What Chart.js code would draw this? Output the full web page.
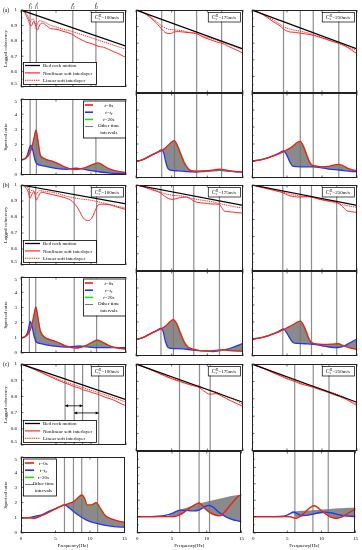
<!DOCTYPE html>
<html>
<head>
<meta charset="utf-8">
<script src="https://cdn.jsdelivr.net/npm/chart.js@4.4.0/dist/chart.umd.min.js"></script>
<style>
  html, body { margin: 0; padding: 0; background: #fff; }
  #fig { position: relative; width: 362px; height: 550px; overflow: hidden; background: #fff; }
</style>
</head>
<body>
<div id="fig"></div>
<script>
// ---------------- data ----------------
const freqTicks = [0, 5, 10, 15];
const velocities = ['100', '175', '250'];
const rowNames = ['(a)', '(b)', '(c)'];
const fLabelsA1 = [['1', 's'], ['1', 'l'], ['2', 's'], ['2', 'l']];

// bed rock coherency (straight line)
const bedA = [[0, 1], [15, 0.765]];
const bedB = [[0, 1], [15, 0.882]];
const bedC = [[0, 1], [15, 0.78]];

// nonlinear / linear soft interlayer coherency
const nlA1 = [[0,1],[0.5,0.985],[1,0.94],[1.45,0.895],[1.8,0.925],[2.0,0.91],[2.3,0.868],[2.7,0.905],[3.1,0.915],[3.6,0.9],[4.2,0.88],[5,0.875],[6,0.862],[7.2,0.845],[8,0.822],[8.7,0.805],[9.4,0.79],[10.2,0.78],[11,0.765],[11.8,0.758],[12.5,0.745],[13.2,0.73],[14,0.715],[14.6,0.7],[15,0.695]];
const linA1 = [[0,1],[0.5,0.99],[1,0.96],[1.35,0.925],[1.7,0.945],[2.2,0.9],[2.6,0.93],[3.2,0.925],[4,0.905],[5,0.89],[6,0.875],[7,0.865],[8,0.85],[9,0.835],[10,0.82],[11,0.805],[12,0.79],[13,0.775],[14,0.76],[15,0.745]];
const nlA2 = [[0,1],[1,0.985],[2,0.955],[3,0.915],[3.6,0.885],[4.2,0.862],[4.8,0.858],[5.4,0.868],[6,0.87],[7,0.865],[8,0.862],[8.5,0.858],[9.5,0.835],[10.5,0.82],[11.5,0.805],[12,0.8],[12.8,0.785],[13.5,0.77],[14.3,0.755],[15,0.74]];
const linA2 = [[0,1],[1,0.985],[2,0.96],[3,0.925],[3.6,0.905],[4.5,0.885],[5.4,0.88],[6.5,0.875],[7.5,0.865],[8.5,0.857],[9.5,0.84],[10.5,0.83],[11.5,0.815],[12.5,0.8],[13.5,0.785],[14.3,0.772],[15,0.76]];
const nlA3 = [[0,1],[1,0.985],[2,0.96],[3,0.93],[4,0.905],[4.5,0.885],[5.4,0.868],[6.2,0.865],[6.9,0.86],[7.8,0.855],[8.75,0.848],[9.5,0.838],[10.5,0.825],[11.5,0.81],[12.4,0.8],[13.2,0.785],[14,0.765],[15,0.737]];
const linA3 = [[0,1],[1,0.985],[2,0.965],[3,0.94],[4,0.915],[4.5,0.9],[5.4,0.885],[6.9,0.872],[8,0.862],[9,0.848],[10,0.835],[11,0.82],[12,0.805],[13,0.79],[14,0.772],[15,0.755]];

const nlB1 = [[0,1],[0.5,0.99],[1,0.96],[1.3,0.918],[1.6,0.945],[1.85,0.96],[2.2,0.906],[2.5,0.93],[2.9,0.955],[3.5,0.95],[4.5,0.94],[5.5,0.93],[6.5,0.917],[7.1,0.905],[7.6,0.885],[8.2,0.85],[8.8,0.8],[9.3,0.78],[9.7,0.778],[10.2,0.8],[10.6,0.84],[11,0.875],[11.6,0.88],[12.6,0.877],[13.5,0.865],[14.3,0.855],[15,0.847]];
const linB1 = [[0,1],[1,0.98],[1.3,0.95],[1.6,0.97],[2.2,0.945],[2.6,0.965],[3.5,0.96],[5,0.95],[6.5,0.93],[7.6,0.92],[9,0.91],[10,0.905],[11,0.895],[12,0.885],[13,0.875],[14,0.865],[15,0.855]];
const nlB2 = [[0,1],[1,0.99],[2,0.975],[2.8,0.965],[3.4,0.955],[4,0.935],[4.6,0.92],[5.2,0.917],[6,0.925],[7.1,0.93],[7.8,0.915],[8.5,0.9],[9.5,0.895],[10.5,0.89],[11.7,0.887],[12,0.87],[12.4,0.848],[13,0.845],[14,0.84],[15,0.837]];
const linB2 = [[0,1],[1,0.99],[2,0.98],[3,0.965],[4,0.95],[5.2,0.94],[6.5,0.935],[8,0.92],[9.5,0.91],[11,0.9],[12,0.89],[13,0.88],[14,0.872],[15,0.865]];
const nlB3 = [[0,1],[1,0.99],[2,0.98],[3,0.97],[4,0.96],[4.4,0.955],[5.2,0.94],[6,0.932],[6.9,0.93],[7.7,0.932],[8.5,0.93],[9.5,0.918],[10.5,0.91],[11.5,0.905],[12.1,0.9],[12.8,0.88],[13.5,0.852],[14.2,0.845],[15,0.84]];
const linB3 = [[0,1],[1,0.99],[2,0.985],[3,0.975],[4,0.965],[5,0.952],[6,0.942],[7,0.935],[8.5,0.93],[10,0.915],[11,0.905],[12,0.895],[13,0.885],[14,0.877],[15,0.87]];

const nlC1 = [[0,1],[1,0.983],[2,0.965],[3,0.945],[4,0.925],[5,0.905],[5.7,0.893],[6.3,0.882],[7,0.872],[7.6,0.86],[8.3,0.852],[8.9,0.84],[9.6,0.832],[10.4,0.82],[11.2,0.81],[12,0.795],[12.8,0.785],[13.6,0.77],[14.3,0.755],[15,0.742]];
const linC1 = [[0,1],[1,0.985],[2,0.967],[3,0.948],[4,0.93],[5,0.912],[6,0.895],[7,0.88],[8,0.866],[9,0.852],[10,0.838],[11,0.825],[12,0.81],[13,0.795],[14,0.78],[15,0.765]];
const nlC2 = [[0,1],[1,0.985],[2,0.968],[3,0.95],[4,0.932],[5,0.915],[6.1,0.9],[7,0.888],[8,0.875],[8.9,0.864],[9.5,0.845],[10.4,0.826],[11.2,0.83],[11.8,0.82],[12.5,0.805],[13.2,0.79],[14,0.775],[15,0.756]];
const linC2 = [[0,1],[1,0.985],[2,0.97],[3,0.952],[4,0.935],[5,0.918],[6.1,0.903],[7,0.89],[8,0.88],[8.9,0.872],[9.6,0.86],[10.4,0.848],[11.5,0.835],[12.5,0.815],[13.5,0.8],[14.3,0.785],[15,0.767]];
const nlC3 = [[0,1],[1,0.985],[2,0.968],[3,0.95],[4,0.933],[5,0.915],[6.1,0.9],[7,0.885],[8,0.875],[8.75,0.866],[9.5,0.855],[10.3,0.845],[11,0.835],[12,0.82],[13,0.805],[14,0.785],[15,0.76]];
const linC3 = [[0,1],[1,0.986],[2,0.97],[3,0.953],[4,0.936],[5,0.92],[6.1,0.905],[7,0.89],[8,0.88],[8.75,0.872],[10,0.855],[11,0.842],[12,0.828],[13,0.812],[14,0.793],[15,0.77]];

// spectral ratio: t=0s (red), t=te (blue), t=20s (green)
const t0A1 = [[0,1],[0.5,1.05],[1,1.25],[1.3,1.5],[1.6,1.9],[1.9,2.5],[2.13,2.95],[2.4,2.3],[2.75,1.3],[3.2,1.1],[3.7,1.0],[4.6,0.88],[5.5,0.7],[6.5,0.48],[7.3,0.38],[7.9,0.36],[8.6,0.42],[9.3,0.5],[10,0.65],[10.6,0.75],[11,0.8],[11.5,0.7],[12.2,0.5],[12.7,0.38],[13.5,0.27],[14.3,0.2],[15,0.17]];
const t20A1 = [[0,1],[0.5,1.05],[1,1.25],[1.3,1.5],[1.6,1.9],[1.9,2.5],[2.13,2.9],[2.4,2.4],[2.75,1.4],[3.2,1.15],[3.7,1.02],[4.6,0.88],[5.5,0.7],[6.5,0.48],[7.3,0.38],[7.9,0.36],[8.6,0.4],[9.3,0.47],[10,0.58],[10.6,0.68],[11,0.72],[11.5,0.63],[12.2,0.47],[12.7,0.37],[13.5,0.27],[14.3,0.2],[15,0.17]];
const teA1 = [[0,1],[0.5,1.05],[0.9,1.3],[1.15,1.7],[1.42,1.97],[1.7,1.6],[2.0,0.98],[2.3,0.72],[3,0.62],[4.2,0.5],[5.5,0.4],[6.5,0.37],[7.3,0.42],[7.9,0.45],[8.7,0.4],[9.8,0.3],[11,0.22],[12.7,0.13],[14,0.1],[15,0.08]];
const t0A2 = [[0,1],[0.5,1.02],[1,1.08],[1.5,1.18],[2,1.3],[2.5,1.4],[3,1.5],[3.6,1.62],[4.2,1.8],[4.8,2.05],[5.37,2.2],[5.8,1.9],[6.3,1.35],[6.8,0.85],[7.3,0.55],[7.6,0.45],[8.5,0.4],[9.5,0.42],[10.5,0.45],[11.3,0.5],[11.8,0.52],[12.5,0.47],[13.5,0.4],[14.3,0.37],[15,0.35]];
const t20A2 = [[0,1],[0.5,1.02],[1,1.08],[1.5,1.18],[2,1.3],[2.5,1.4],[3,1.5],[3.6,1.62],[4.2,1.78],[4.8,2.0],[5.37,2.15],[5.8,1.95],[6.3,1.45],[6.8,0.95],[7.3,0.6],[7.6,0.47],[8.5,0.4],[9.5,0.41],[10.5,0.43],[11.3,0.46],[11.8,0.47],[12.5,0.44],[13.5,0.39],[14.3,0.36],[15,0.35]];
const teA2 = [[0,1],[0.5,1.02],[1,1.1],[1.5,1.2],[2,1.32],[2.5,1.42],[3,1.52],[3.6,1.65],[3.9,1.45],[4.2,0.9],[4.5,0.55],[5,0.45],[6,0.42],[7,0.38],[8.4,0.35],[9.5,0.38],[10.5,0.42],[11.8,0.45],[13,0.4],[14,0.36],[15,0.35]];
const t0A3 = [[0,1],[1,1.05],[2,1.15],[3,1.3],[4,1.45],[4.5,1.55],[5.2,1.7],[5.9,1.9],[6.5,2.1],[6.9,2.15],[7.3,1.9],[7.8,1.35],[8.2,0.95],[8.5,0.78],[9.2,0.7],[10,0.66],[10.8,0.68],[11.6,0.75],[12.4,0.8],[13,0.72],[13.8,0.55],[14.5,0.47],[15,0.43]];
const t20A3 = [[0,1],[1,1.05],[2,1.15],[3,1.3],[4,1.45],[4.5,1.55],[5.2,1.7],[5.9,1.88],[6.5,2.05],[6.9,2.1],[7.3,1.95],[7.8,1.45],[8.2,1.0],[8.5,0.8],[9.2,0.7],[10,0.65],[10.8,0.66],[11.6,0.7],[12.4,0.72],[13,0.66],[13.8,0.52],[14.5,0.46],[15,0.43]];
const teA3 = [[0,1],[1,1.05],[2,1.15],[3,1.3],[3.8,1.45],[4.5,1.6],[4.9,1.4],[5.4,0.95],[5.9,0.68],[7,0.66],[8.75,0.66],[10,0.6],[11,0.52],[12.5,0.47],[13.5,0.42],[14.3,0.38],[15,0.37]];

const t0B1 = [[0,1],[0.5,1.05],[1,1.25],[1.3,1.5],[1.6,1.95],[1.9,2.6],[2.13,3.04],[2.4,2.35],[2.75,1.45],[3.2,1.1],[3.7,0.95],[4.6,0.82],[5.5,0.65],[6.5,0.45],[7.3,0.35],[8,0.33],[8.7,0.4],[9.4,0.52],[10.2,0.72],[10.9,0.85],[11.5,0.75],[12.3,0.55],[13,0.42],[14,0.32],[15,0.26]];
const t20B1 = [[0,1],[0.5,1.05],[1,1.25],[1.3,1.5],[1.6,1.95],[1.9,2.6],[2.13,3.0],[2.4,2.45],[2.75,1.55],[3.2,1.15],[3.7,0.97],[4.6,0.82],[5.5,0.65],[6.5,0.45],[7.3,0.35],[8,0.33],[8.7,0.38],[9.4,0.47],[10.2,0.6],[10.9,0.68],[11.5,0.62],[12.3,0.48],[13,0.38],[14,0.3],[15,0.26]];
const teB1 = [[0,1],[0.5,1.05],[0.9,1.3],[1.15,1.75],[1.32,2.08],[1.6,1.7],[1.9,1.05],[2.2,0.72],[3,0.6],[4,0.5],[5.5,0.42],[6.5,0.38],[7.3,0.42],[8.4,0.46],[9.5,0.4],[11,0.35],[13,0.35],[15,0.36]];
const t0B2 = [[0,1],[0.5,1.02],[1,1.08],[1.5,1.18],[2,1.3],[2.5,1.4],[3,1.5],[3.5,1.6],[4.2,1.78],[4.7,2.0],[5.2,2.14],[5.7,1.9],[6.2,1.35],[6.7,0.85],[7.2,0.55],[7.6,0.45],[8.5,0.35],[9.5,0.3],[10.5,0.3],[11.5,0.35],[12.3,0.37],[13,0.33],[14,0.3],[15,0.28]];
const t20B2 = [[0,1],[0.5,1.02],[1,1.08],[1.5,1.18],[2,1.3],[2.5,1.4],[3,1.5],[3.5,1.6],[4.2,1.76],[4.7,1.95],[5.2,2.1],[5.7,1.95],[6.2,1.45],[6.7,0.95],[7.2,0.6],[7.6,0.47],[8.5,0.36],[9.5,0.3],[10.5,0.3],[11.5,0.33],[12.3,0.34],[13,0.31],[14,0.29],[15,0.28]];
const teB2 = [[0,1],[0.5,1.02],[1,1.1],[1.5,1.2],[2,1.32],[2.5,1.42],[3,1.52],[3.5,1.63],[3.8,1.45],[4.1,0.9],[4.5,0.5],[5,0.45],[6.5,0.42],[8,0.35],[9.5,0.3],[10.8,0.26],[11.5,0.3],[12.5,0.38],[13.5,0.5],[14.3,0.62],[15,0.75]];
const t0B3 = [[0,1],[1,1.05],[2,1.15],[3,1.3],[4,1.45],[4.5,1.55],[5.2,1.7],[5.9,1.85],[6.5,2.0],[6.9,2.05],[7.3,1.85],[7.8,1.35],[8.2,0.95],[8.6,0.76],[9.5,0.7],[10.5,0.68],[11.5,0.7],[12.3,0.72],[13,0.62],[14,0.48],[15,0.4]];
const t20B3 = [[0,1],[1,1.05],[2,1.15],[3,1.3],[4,1.45],[4.5,1.55],[5.2,1.7],[5.9,1.83],[6.5,1.97],[6.9,2.0],[7.3,1.88],[7.8,1.45],[8.2,1.0],[8.6,0.8],[9.5,0.7],[10.5,0.67],[11.5,0.67],[12.3,0.68],[13,0.6],[14,0.47],[15,0.4]];
const teB3 = [[0,1],[1,1.05],[2,1.15],[3,1.3],[3.8,1.45],[4.5,1.6],[4.9,1.4],[5.4,1.05],[5.9,0.78],[6.5,0.74],[7.5,0.72],[8.8,0.69],[10,0.6],[11,0.53],[12.3,0.5],[13.2,0.6],[14,0.78],[15,1.0]];

const t0C1 = [[0,1],[1,1.0],[1.5,0.98],[2,0.97],[2.5,1.05],[3,1.15],[4,1.35],[4.6,1.5],[5.5,1.7],[6.3,1.85],[7,1.95],[7.6,2.05],[8.2,2.3],[8.8,2.5],[9.2,2.3],[9.6,1.85],[10.2,1.85],[10.9,2.0],[11.4,1.7],[12.2,1.15],[13,0.95],[14,0.8],[15,0.7]];
const t20C1 = [[0,1],[1,1.0],[1.5,0.98],[2,0.97],[2.5,1.05],[3,1.15],[4,1.35],[4.6,1.5],[5.5,1.7],[6.3,1.84],[7,1.93],[7.6,2.02],[8.2,2.2],[8.8,2.35],[9.2,2.15],[9.6,1.8],[10.2,1.75],[10.9,1.8],[11.4,1.55],[12.2,1.1],[13,0.92],[14,0.78],[15,0.7]];
const teC1 = [[0,1],[1,1.0],[1.5,1.05],[2,1.1],[3,1.2],[4.2,1.45],[5.5,1.7],[6.3,1.85],[7,1.65],[7.6,1.42],[8.5,1.12],[9.5,0.85],[10.5,0.68],[11.4,0.58],[12.5,0.48],[13.5,0.42],[15,0.38]];
const t0C2 = [[0,1],[2,1.0],[4,1.0],[5,1.0],[5.7,1.05],[6.5,1.2],[7.3,1.45],[8.2,1.7],[8.9,1.83],[9.5,1.6],[10.3,1.3],[11.2,1.1],[11.9,1.05],[12.5,1.25],[13.2,1.6],[14,2.0],[14.6,2.25],[15,2.35]];
const t20C2 = [[0,1],[2,1.0],[4,1.0],[5,1.0],[5.7,1.05],[6.5,1.2],[7.3,1.43],[8.2,1.68],[8.9,1.8],[9.6,1.5],[10.5,1.2],[11.5,1.05],[12.2,1.15],[13,1.5],[14,1.95],[15,2.32]];
const teC2 = [[0,1],[2,1.0],[3,1.02],[4,1.08],[5,1.2],[6.2,1.4],[7,1.38],[8,1.35],[8.9,1.4],[9.7,1.6],[10.4,1.69],[11,1.55],[11.8,1.25],[12.7,1.0],[13.5,0.85],[14.3,0.75],[15,0.7]];
const t0C3 = [[0,1],[3,1.0],[5,1.0],[5.5,0.98],[6.3,0.9],[7,1.05],[7.8,1.35],[8.5,1.6],[9,1.67],[9.6,1.5],[10.5,1.2],[11.3,0.98],[12.1,0.9],[12.8,0.95],[13.5,1.1],[14.3,1.3],[15,1.48]];
const t20C3 = [[0,1],[3,1.0],[5,1.0],[5.5,0.98],[6.3,0.92],[7,1.05],[7.8,1.33],[8.5,1.56],[9,1.62],[9.6,1.48],[10.5,1.2],[11.3,1.0],[12.1,0.92],[12.8,0.97],[13.5,1.1],[14.3,1.28],[15,1.46]];
const teC3 = [[0,1],[3,1.0],[4.5,1.02],[5.3,1.15],[5.9,1.28],[6.5,1.18],[7,1.05],[7.8,1.08],[8.8,1.15],[9.8,1.25],[10.6,1.27],[11.5,1.22],[12.5,1.12],[13.5,1.05],[14.3,1.02],[15,1.0]];

// envelope of the "other time intervals" curves where they leave the red/blue pair
const bandHiC2 = [[4.5,1.1],[6.2,1.42],[7.5,1.6],[8.9,1.8],[10.4,1.95],[12,2.1],[13.5,2.25],[15,2.35]];
const bandLoC2 = [[4.5,1.0],[6.2,1.1],[7.3,1.35],[8,1.35],[8.9,1.4],[9.6,1.5],[10.3,1.3],[11.2,1.1],[12,1.05],[12.7,1.0],[13.5,0.85],[14.3,0.75],[15,0.7]];
const bandHiC3 = [[4.5,1.05],[5.9,1.3],[7.5,1.35],[9,1.4],[10.6,1.45],[12,1.5],[13.5,1.52],[15,1.55]];
const bandLoC3 = [[4.5,1.0],[5.9,1.2],[6.3,0.95],[7,1.02],[8,1.08],[9,1.15],[10.5,1.2],[11.3,0.98],[12.1,0.9],[12.8,0.95],[13.5,1.02],[14.3,1.0],[15,1.0]];

// natural frequency markers (Hz)
const vlA1 = [1.3, 2.2, 7.4, 10.7], vlA2 = [3.6, 5.4, 8.5, 12.0], vlA3 = [4.5, 6.9, 8.75, 12.4];
const vlB1 = [1.2, 2.1, 7.6, 10.8], vlB2 = [3.5, 5.25, 8.1, 11.7], vlB3 = [4.4, 6.9, 8.5, 12.1];
const vlC1 = [6.3, 7.6, 8.8, 11.1], vlC2 = [6.1, 8.9, 10.4], vlC3 = [6.1, 8.75, 11.0];

// double arrows in panel (c) [from Hz, to Hz, coherency]
const arrowsC1 = [[6.3, 8.8, 0.742], [7.6, 11.1, 0.698]];

// tables built from the arrays above
const bedRock = [bedA, bedB, bedC];
const cohNL = [[nlA1, nlA2, nlA3], [nlB1, nlB2, nlB3], [nlC1, nlC2, nlC3]];
const cohLin = [[linA1, linA2, linA3], [linB1, linB2, linB3], [linC1, linC2, linC3]];
const specT0 = [[t0A1, t0A2, t0A3], [t0B1, t0B2, t0B3], [t0C1, t0C2, t0C3]];
const specT20 = [[t20A1, t20A2, t20A3], [t20B1, t20B2, t20B3], [t20C1, t20C2, t20C3]];
const specTe = [[teA1, teA2, teA3], [teB1, teB2, teB3], [teC1, teC2, teC3]];
const bandHi = [[null, null, null], [null, null, null], [null, bandHiC2, bandHiC3]];
const bandLo = [[null, null, null], [null, null, null], [null, bandLoC2, bandLoC3]];
const vLines = [[vlA1, vlA2, vlA3], [vlB1, vlB2, vlB3], [vlC1, vlC2, vlC3]];

// ---------------- layout ----------------
const colX = [[21, 126], [136, 243], [252, 357]];
const rowY = [
  { coh: [10, 93], spec: [93, 178] },
  { coh: [185, 271], spec: [271, 356] },
  { coh: [364, 451], spec: [451, 533] }
];

const RED = '#ff1414', BLUE = '#2233ff', GREEN = '#22dd22', BAND = 'rgba(118,118,118,0.85)', VGRAY = '#8d8d8d';
const SERIF = "'Liberation Serif', 'DejaVu Serif', serif";

Chart.defaults.font.family = SERIF;
Chart.defaults.font.size = 5;
Chart.defaults.color = '#000';

const fig = document.getElementById('fig');

function fnt(size, italic) { return (italic ? 'italic ' : '') + size + 'px ' + SERIF; }

// parts: [text, size, italic, dy, noAdvance]
function rich(ctx, parts, x, y, align) {
  let w = 0;
  parts.forEach(p => { ctx.font = fnt(p[1], p[2]); if (!p[4]) w += ctx.measureText(p[0]).width; });
  let cx = align === 'center' ? x - w / 2 : x;
  ctx.textAlign = 'left';
  parts.forEach(p => {
    ctx.font = fnt(p[1], p[2]);
    ctx.fillText(p[0], cx, y + (p[3] || 0));
    if (!p[4]) cx += ctx.measureText(p[0]).width;
  });
  return w;
}

function line(ctx, x1, y1, x2, y2) { ctx.beginPath(); ctx.moveTo(x1, y1); ctx.lineTo(x2, y2); ctx.stroke(); }

const decor = {
  id: 'decor',
  beforeDraw(chart, args, o) {
    const { ctx, chartArea: a, scales: { x } } = chart;
    ctx.save();
    ctx.strokeStyle = VGRAY;
    ctx.lineWidth = 1.2;
    (o.vlines || []).forEach(f => {
      const px = x.getPixelForValue(f);
      line(ctx, px, a.top, px, a.bottom);
    });
    ctx.restore();
  },
  afterDatasetsDraw(chart, args, o) {
    if (!o.arrows) return;
    const { ctx, scales: { x, y } } = chart;
    ctx.save();
    ctx.strokeStyle = '#000'; ctx.fillStyle = '#000'; ctx.lineWidth = 0.8;
    o.arrows.forEach(ar => {
      const p1 = x.getPixelForValue(ar[0]), p2 = x.getPixelForValue(ar[1]), py = y.getPixelForValue(ar[2]);
      line(ctx, p1, py, p2, py);
      [[p1, 1], [p2, -1]].forEach(([px, d]) => {
        ctx.beginPath(); ctx.moveTo(px, py); ctx.lineTo(px + d * 3, py - 1.5); ctx.lineTo(px + d * 3, py + 1.5); ctx.closePath(); ctx.fill();
      });
    });
    ctx.restore();
  },
  afterDraw(chart, args, o) {
    const { ctx, chartArea: a, scales: { x, y } } = chart;
    ctx.save();
    // frame
    ctx.strokeStyle = '#222'; ctx.lineWidth = 1;
    ctx.strokeRect(Math.round(a.left) + 0.5, Math.round(a.top) + 0.5, Math.round(a.width) - 1, Math.round(a.height) - 1);
    // inward ticks
    ctx.lineWidth = 0.7;
    const n = Math.round((y.max - y.min) / o.minor);
    for (let i = 0; i <= n; i++) {
      const v = y.min + i * o.minor;
      const py = y.getPixelForValue(v);
      const len = (i % o.perMajor === 0) ? 2.5 : 1.5;
      line(ctx, a.left, py, a.left + len, py);
    }
    freqTicks.forEach(f => {
      const px = x.getPixelForValue(f);
      line(ctx, px, a.bottom, px, a.bottom - 2.5);
      line(ctx, px, a.top, px, a.top + 2.5);
    });
    ctx.fillStyle = '#000';
    ctx.textBaseline = 'alphabetic';
    // row letter
    if (o.rowLabel) { ctx.font = fnt(5.5); ctx.textAlign = 'center'; ctx.fillText(o.rowLabel, a.left - 15, a.top + 2); }
    // frequency labels above the frame
    if (o.fLabels) {
      o.fLabels.forEach((fl, i) => {
        const px = x.getPixelForValue(o.vlines[i]);
        rich(ctx, [['f', 5.5, true, 0], [fl[0], 3.6, false, 1.3, true], [fl[1], 3.6, true, -2.3]], px, a.top - 2.5, 'center');
      });
    }
    // velocity box
    if (o.cLabel) {
      const parts = [['C', 5.5, true, 0], ['s', 3.6, true, 1.4, true], ['IL', 3.4, true, -2.2], ['=' + o.cLabel + 'm/s', 5, false, 0]];
      ctx.font = fnt(5);
      let w = 0;
      parts.forEach(p => { ctx.font = fnt(p[1], p[2]); if (!p[4]) w += ctx.measureText(p[0]).width; });
      const bw = w + 8, bh = 9.5, bx = a.right - 3 - bw, by = a.top + 2;
      ctx.fillStyle = '#fff'; ctx.fillRect(bx, by, bw, bh);
      ctx.strokeStyle = '#000'; ctx.lineWidth = 0.7; ctx.strokeRect(bx + 0.5, by + 0.5, bw, bh);
      ctx.fillStyle = '#000';
      rich(ctx, parts, bx + bw / 2, by + 6.8, 'center');
    }
    // legends
    if (o.legend === 'coh') {
      const bx = a.left + 2, by = a.bottom - 25, bw = 73, bh = 22;
      ctx.fillStyle = '#fff'; ctx.fillRect(bx, by, bw, bh);
      ctx.strokeStyle = '#000'; ctx.lineWidth = 0.8; ctx.strokeRect(bx + 0.5, by + 0.5, bw, bh);
      const items = [['Bed rock motion', '#000', [], 1.3], ['Nonlinear soft interlayer', RED, [], 1.1], ['Linear soft interlayer', RED, [1.3, 0.9], 1.1]];
      items.forEach((it, i) => {
        const iy = by + 3.5 + i * 7.4;
        ctx.strokeStyle = it[1]; ctx.lineWidth = it[3]; ctx.setLineDash(it[2]);
        line(ctx, bx + 2, iy, bx + 17, iy);
        ctx.setLineDash([]);
        ctx.fillStyle = '#000'; ctx.font = fnt(5); ctx.textAlign = 'left';
        ctx.fillText(it[0], bx + 20, iy + 1.8);
      });
    }
    if (o.legend === 'specR' || o.legend === 'specL') {
      const bw = o.legend === 'specR' ? 43 : 34, bh = 37;
      const bx = o.legend === 'specR' ? a.right - bw : a.left + 2;
      const by = a.top + 1.5;
      ctx.fillStyle = '#fff'; ctx.fillRect(bx, by, bw, bh);
      ctx.strokeStyle = '#000'; ctx.lineWidth = 0.8; ctx.strokeRect(bx + 0.5, by + 0.5, bw - 1, bh);
      const tx = bx + bw * 0.6;
      const items = [
        [RED, [['t', 5, true], ['=0s', 5, false]]],
        [BLUE, [['t', 5, true], ['=', 5, false], ['t', 5, true], ['e', 3.5, true, 1.2]]],
        [GREEN, [['t', 5, true], ['=20s', 5, false]]]
      ];
      const sx1 = bx + 2, sx2 = bx + (o.legend === 'specR' ? 10 : 11);
      items.forEach((it, i) => {
        const iy = by + 4.5 + i * 7.2;
        ctx.strokeStyle = it[0]; ctx.lineWidth = 1.6;
        line(ctx, sx1, iy, sx2, iy);
        ctx.fillStyle = '#000';
        rich(ctx, it[1], tx, iy + 1.8, 'center');
      });
      const gy = by + 26;
      ctx.strokeStyle = '#7a7a7a'; ctx.lineWidth = 1;
      line(ctx, sx1, gy, sx2, gy);
      ctx.fillStyle = '#000'; ctx.font = fnt(5); ctx.textAlign = 'center';
      ctx.fillText('Other time', tx, gy + 0.8);
      ctx.fillText('intervals', tx, gy + 7.6);
    }
    ctx.restore();
  }
};

function addCanvas(left, top, w, h) {
  const c = document.createElement('canvas');
  c.width = w; c.height = h;
  c.style.position = 'absolute';
  c.style.left = left + 'px';
  c.style.top = top + 'px';
  c.style.width = w + 'px';
  c.style.height = h + 'px';
  fig.appendChild(c);
  return c;
}

function makeChart(col, yr, isBottom, padTop, datasets, yOpts, decorOpts) {
  const L = col === 0 ? 21 : 3, R = 4, B = isBottom ? 17 : 4;
  const [x0, x1] = colX[col], [y0, y1] = yr;
  const canvas = addCanvas(x0 - L, y0 - padTop, x1 - x0 + L + R, y1 - y0 + padTop + B);
  return new Chart(canvas, {
    type: 'line',
    data: { datasets },
    options: {
      responsive: false,
      animation: false,
      events: [],
      layout: { padding: { left: 0, right: R, top: padTop, bottom: isBottom ? 0 : B } },
      elements: { point: { radius: 0 }, line: { cubicInterpolationMode: 'monotone' } },
      plugins: {
        legend: { display: false },
        tooltip: { enabled: false },
        filler: { drawTime: 'beforeDatasetsDraw' },
        decor: decorOpts
      },
      scales: {
        x: {
          type: 'linear', min: 0, max: 15,
          grid: { display: false, drawTicks: false }, border: { display: false },
          ticks: { display: isBottom, stepSize: 5, padding: 3, maxRotation: 0, autoSkip: false },
          title: { display: isBottom, text: 'Frequency[Hz]', padding: { top: 0, bottom: 1 } },
          afterFit: s => { s.height = isBottom ? 17 : 0; }
        },
        y: {
          type: 'linear', min: yOpts.min, max: yOpts.max,
          grid: { display: false, drawTicks: false }, border: { display: false },
          ticks: { display: col === 0, stepSize: yOpts.step, padding: 4, autoSkip: false, callback: yOpts.label },
          title: { display: col === 0, text: yOpts.title, padding: { top: 3, bottom: 0 } },
          afterFit: s => { s.width = L; }
        }
      }
    },
    plugins: [decor]
  });
}

const cohAxis = {
  min: 0.5, max: 1, step: 0.1, title: 'Lagged coherency',
  label: v => { const s = String(+v.toFixed(2)); return Math.abs(v - 0.5) < 1e-9 ? [s, ''] : s; }
};
const specAxis = {
  min: 0, max: 5, step: 1, title: 'Spectral ratio',
  label: v => { const s = String(+v.toFixed(2)); return Math.abs(v - 5) < 1e-9 ? ['', s] : s; }
};

const ln = (label, data, color, width, extra) => Object.assign({ label, data, borderColor: color, borderWidth: width, fill: false }, extra || {});

for (let r = 0; r < 3; r++) {
  for (let c = 0; c < 3; c++) {
    // lagged coherency panel
    makeChart(c, rowY[r].coh, false, 9, [
      ln('Bed rock motion', bedRock[r], '#000', 1.2),
      ln('Nonlinear soft interlayer', cohNL[r][c], RED, 0.9),
      ln('Linear soft interlayer', cohLin[r][c], RED, 0.9, { borderDash: [1.3, 0.9] })
    ], cohAxis, {
      vlines: vLines[r][c], minor: 0.05, perMajor: 2,
      cLabel: velocities[c],
      rowLabel: c === 0 ? rowNames[r] : null,
      fLabels: (r === 0 && c === 0) ? fLabelsA1 : null,
      legend: c === 0 ? 'coh' : null,
      arrows: (r === 2 && c === 0) ? arrowsC1 : null
    });

    // spectral ratio panel
    const hasBand = !!bandHi[r][c];
    const sets = [
      ln('t=0s', specT0[r][c], RED, 1.3, hasBand ? {} : { fill: { target: 2, above: BAND, below: BAND } }),
      ln('t=20s', specT20[r][c], GREEN, 0.9),
      ln('t=te', specTe[r][c], BLUE, 1.3)
    ];
    if (hasBand) {
      sets.push(ln('Other time intervals', bandHi[r][c], 'rgba(0,0,0,0)', 0, { fill: { target: 4, above: BAND, below: BAND } }));
      sets.push(ln('', bandLo[r][c], 'rgba(0,0,0,0)', 0));
    }
    makeChart(c, rowY[r].spec, r === 2, 4, sets, specAxis, {
      vlines: vLines[r][c], minor: 0.5, perMajor: 2,
      legend: c === 0 ? (r === 2 ? 'specL' : 'specR') : null
    });
  }
}
</script>
</body>
</html>
